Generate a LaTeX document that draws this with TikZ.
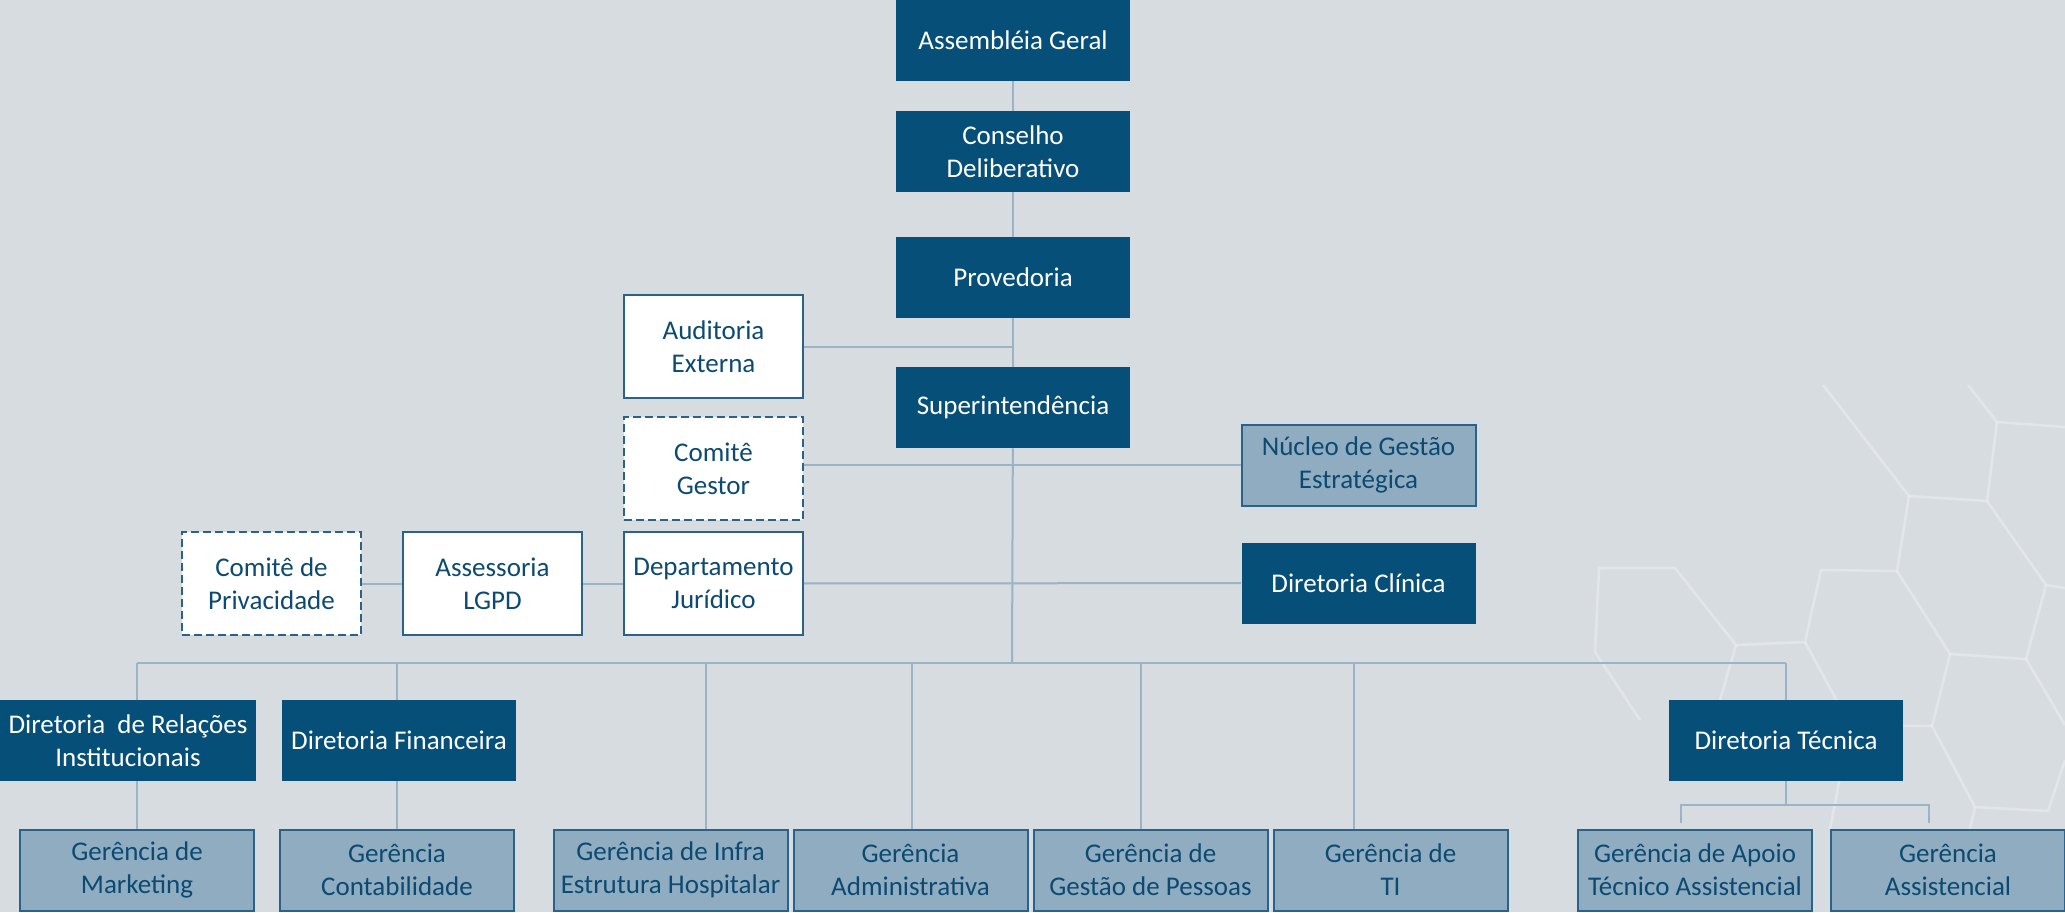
\documentclass[tikz,border=0pt]{standalone}
\usepackage{fontspec}
\setmainfont{Carlito}
\usetikzlibrary{shapes, arrows, positioning}
\definecolor{bgcol}{HTML}{D6DCE0}
\definecolor{darkcol}{HTML}{064F78}
\definecolor{lightcol}{HTML}{8FACC0}
\definecolor{edgecol}{HTML}{2B628A}
\definecolor{textcol}{HTML}{0C4A72}
\definecolor{linkcol}{HTML}{9AB3C5}
\tikzstyle{dark} = [rectangle, minimum width=117pt, minimum height=40.5pt, inner sep=1pt, text centered, fill=darkcol, text=white]
\tikzstyle{staff} = [rectangle, minimum width=89.5pt, minimum height=51.5pt, inner sep=1pt, text centered, draw=edgecol, line width=1.2pt, fill=white, text=textcol]
\tikzstyle{committee} = [staff, dash pattern=on 4pt off 2pt]
\tikzstyle{manager} = [rectangle, minimum width=117pt, minimum height=40.5pt, inner sep=1pt, text centered, draw=edgecol, line width=1pt, fill=lightcol, text=textcol]
\tikzstyle{link} = [draw=linkcol, line width=1pt]
\tikzstyle{hex} = [draw=white, opacity=0.3, line width=1.3pt]

\begin{document}
\begin{tikzpicture}[x=0.5pt, y=-0.5pt, align=center, font=\fontsize{13.5}{16.5}\selectfont]
    \fill [bgcol] (0,0) rectangle (2065,912);
    \useasboundingbox (0,0) rectangle (2065,912);

    % faint honeycomb in the background
    \draw [hex] (1968,385) -- (1997,422) -- (2065,427);
    \draw [hex] (1997,422) -- (1987,501) -- (1909,496) -- (1823,385);
    \draw [hex] (1987,501) -- (2046,585) -- (2065,588);
    \draw [hex] (1909,496) -- (1897,571) -- (1821,570) -- (1805,642) -- (1736,645) -- (1675,568) -- (1599,568) -- (1595,652);
    \draw [hex] (1897,571) -- (1950,654) -- (2026,659) -- (2046,585);
    \draw [hex] (1950,654) -- (1932,726) -- (1975,807) -- (2048,811) -- (2065,760);
    \draw [hex] (2026,659) -- (2065,725);
    \draw [hex] (1805,642) -- (1850,725) -- (1932,726);
    \draw [hex] (1975,807) -- (1950,912);
    \draw [hex] (1850,725) -- (1830,829);
    \draw [hex] (1736,645) -- (1720,700);
    \draw [hex] (1595,652) -- (1640,720);

    \node (assembleia) [dark] at (1013,40) {Assembléia Geral};
    \node (conselho) [dark] at (1013,151.5) {Conselho\\Deliberativo};
    \node (provedoria) [dark] at (1013,277.5) {Provedoria};
    \node (superint) [dark] at (1013,407.5) {Superintendência};

    \node (auditoria) [staff] at (713.5,346.5) {Auditoria\\Externa};
    \node (comgestor) [committee] at (713.5,468.5) {Comitê\\Gestor};
    \node (juridico) [staff] at (713.5,583.5) {Departamento\\Jurídico};
    \node (lgpd) [staff] at (492.5,583.5) {Assessoria\\LGPD};
    \node (comprivac) [committee] at (271.5,583.5) {Comitê de\\Privacidade};

    \node (nucleo) [manager] at (1358.5,465) {Núcleo de Gestão\\Estratégica};
    \node (clinica) [dark] at (1358.5,583) {Diretoria Clínica};

    \node (relinst) [dark, minimum width=128pt] at (128,740.5) {Diretoria\ \ de Relações\\Institucionais};
    \node (financeira) [dark] at (399,740.5) {Diretoria Financeira};
    \node (tecnica) [dark] at (1786,740.5) {Diretoria Técnica};

    \node (marketing) [manager] at (137,870) {Gerência de\\Marketing};
    \node (contab) [manager] at (397,870) {Gerência\\Contabilidade};
    \node (infra) [manager] at (670.5,870) {Gerência de Infra\\Estrutura Hospitalar};
    \node (admin) [manager] at (910.5,870) {Gerência\\Administrativa};
    \node (pessoas) [manager] at (1150.5,870) {Gerência de\\Gestão de Pessoas};
    \node (ti) [manager] at (1390.5,870) {Gerência de\\TI};
    \node (apoio) [manager] at (1695,870) {Gerência de Apoio\\Técnico Assistencial};
    \node (assist) [manager] at (1948,870) {Gerência\\Assistencial};

    \coordinate (hub) at (1012,663);
    \coordinate (busleft) at (137,663);
    \coordinate (busright) at (1786,663);
    \coordinate (dfin) at (397,663);
    \coordinate (dinfra) at (706,663);
    \coordinate (dadmin) at (912,663);
    \coordinate (dpessoas) at (1141,663);
    \coordinate (dti) at (1354,663);
    \coordinate (tbr) at (1786,805);
    \coordinate (tleft) at (1681,823);
    \coordinate (tright) at (1929,823);

    \draw [link] (assembleia) -- (conselho);
    \draw [link] (conselho) -- (provedoria);
    \draw [link] (provedoria) -- (superint);
    \draw [link] (auditoria.east) -- (auditoria.east -| provedoria.south);
    \draw [link] (superint) -- (hub);
    \draw [link] (comgestor.east |- nucleo.west) -- (nucleo.west);
    \draw [link] (juridico) -- (clinica);
    \draw [link] (comprivac) -- (lgpd);
    \draw [link] (lgpd) -- (juridico);

    \draw [link] (busleft) -- (busright);
    \draw [link] (busleft) -- (busleft |- relinst.north);
    \draw [link] (busleft |- relinst.south) -- (marketing.north);
    \draw [link] (dfin) -- (dfin |- financeira.north);
    \draw [link] (dfin |- financeira.south) -- (contab.north);
    \draw [link] (dinfra) -- (dinfra |- infra.north);
    \draw [link] (dadmin) -- (dadmin |- admin.north);
    \draw [link] (dpessoas) -- (dpessoas |- pessoas.north);
    \draw [link] (dti) -- (dti |- ti.north);
    \draw [link] (busright) -- (tecnica.north);
    \draw [link] (tecnica.south) -- (tbr);
    \draw [link] (tleft) |- (tbr) -| (tright);

\end{tikzpicture}
\end{document}
